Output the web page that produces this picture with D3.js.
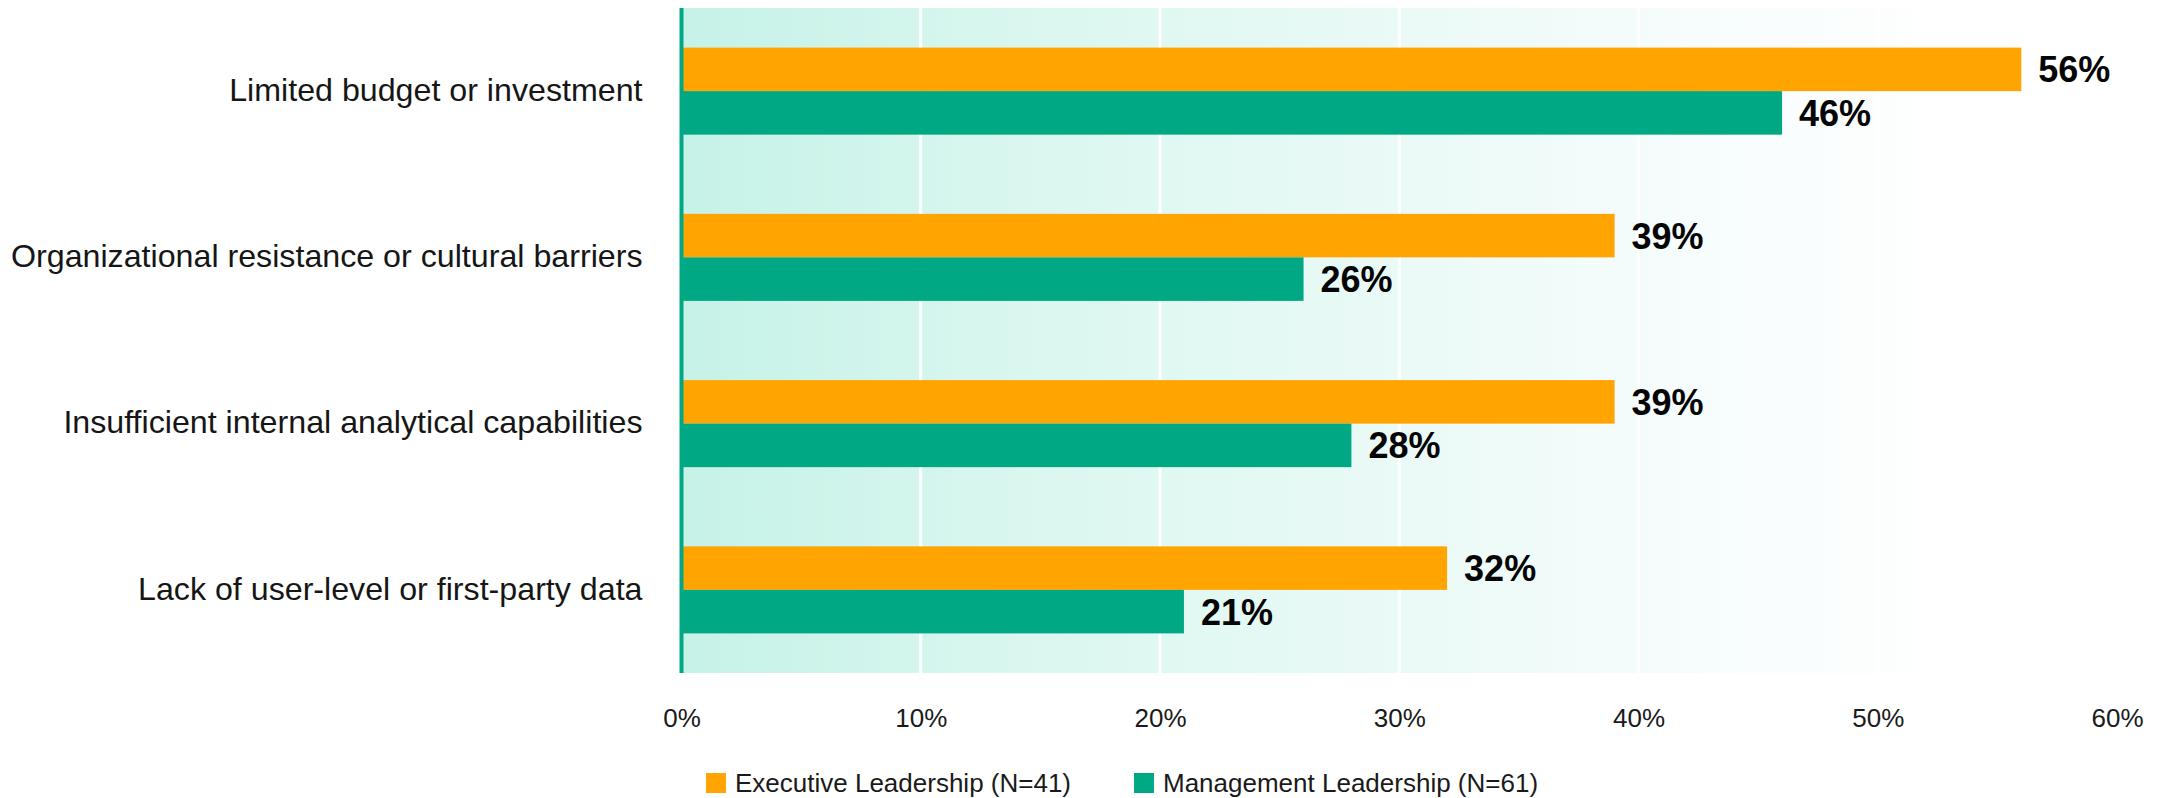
<!DOCTYPE html>
<html>
<head>
<meta charset="utf-8">
<script src="https://cdn.jsdelivr.net/npm/d3@7"></script>
<style>
  html, body { margin: 0; padding: 0; background: #ffffff; }
  svg { display: block; }
  text { font-family: "Liberation Sans", Arial, sans-serif; }
</style>
</head>
<body>
<div id="chart"></div>
<script>
// Barriers to analytics adoption, by leadership level
const categories = [
  "Limited budget or investment",
  "Organizational resistance or cultural barriers",
  "Insufficient internal analytical capabilities",
  "Lack of user-level or first-party data"
];
const seriesNames = ["Executive Leadership (N=41)", "Management Leadership (N=61)"];
const executiveValues = [56, 39, 39, 32];
const managementValues = [46, 26, 28, 21];
const tickValues = [0, 10, 20, 30, 40, 50, 60];
const seriesColors = ["#ffa400", "#00a884"];

const width = 2161, height = 798;
const plotLeft = 681.5, plotRight = 2117, plotTop = 8, plotBottom = 673;

const svg = d3.select("#chart").append("svg")
  .attr("width", width).attr("height", height)
  .attr("viewBox", `0 0 ${width} ${height}`);

const x = d3.scaleLinear().domain([0, 60]).range([plotLeft, plotRight]);
const y = d3.scaleBand().domain(categories).range([plotTop, plotBottom]).paddingInner(0).paddingOuter(0);
const inner = d3.scaleBand().domain(seriesNames).range([0, y.bandwidth()]).paddingInner(0).paddingOuter(0.91);

// soft mint backdrop fading to white
const defs = svg.append("defs");
const grad = defs.append("linearGradient").attr("id", "bgGrad")
  .attr("x1", "0%").attr("x2", "100%").attr("y1", "0%").attr("y2", "0%");
grad.append("stop").attr("offset", "0%").attr("stop-color", "#c6f2e7");
grad.append("stop").attr("offset", "30%").attr("stop-color", "#dbf7f0");
grad.append("stop").attr("offset", "60%").attr("stop-color", "#ebfaf7");
grad.append("stop").attr("offset", "85%").attr("stop-color", "#f8fdfd");
grad.append("stop").attr("offset", "100%").attr("stop-color", "#fdfefe");

svg.append("rect")
  .attr("x", x(0)).attr("y", plotTop)
  .attr("width", 1914 - x(0)).attr("height", plotBottom - plotTop)
  .attr("fill", "url(#bgGrad)");

// white vertical gridlines
svg.append("g").selectAll("line")
  .data(tickValues.filter(d => d > 0 && d < 60))
  .join("line")
  .attr("x1", d => x(d)).attr("x2", d => x(d))
  .attr("y1", plotTop).attr("y2", plotBottom)
  .attr("stroke", "#ffffff").attr("stroke-width", 3);

// grouped bars
const rows = categories.map((c, i) => ({
  category: c,
  values: [
    { series: seriesNames[0], value: executiveValues[i], color: seriesColors[0] },
    { series: seriesNames[1], value: managementValues[i], color: seriesColors[1] }
  ]
}));

const groups = svg.append("g").selectAll("g")
  .data(rows).join("g")
  .attr("transform", d => `translate(0,${y(d.category)})`);

groups.selectAll("rect")
  .data(d => d.values).join("rect")
  .attr("x", x(0))
  .attr("y", d => inner(d.series))
  .attr("width", d => x(d.value) - x(0))
  .attr("height", inner.bandwidth())
  .attr("fill", d => d.color);

groups.selectAll("text.value")
  .data(d => d.values).join("text")
  .attr("class", "value")
  .attr("x", d => x(d.value) + 17)
  .attr("y", d => inner(d.series) + inner.bandwidth() / 2)
  .attr("dy", "0.36em")
  .attr("font-size", 36)
  .attr("font-weight", "bold")
  .attr("fill", "#050505")
  .text(d => `${d.value}%`);

// category labels
svg.append("g").selectAll("text")
  .data(categories).join("text")
  .attr("x", plotLeft - 39)
  .attr("y", d => y(d) + y.bandwidth() / 2)
  .attr("dy", "0.3em")
  .attr("text-anchor", "end")
  .attr("font-size", 32.2)
  .attr("fill", "#161616")
  .text(d => d);

// left axis rule
svg.append("line")
  .attr("x1", x(0)).attr("x2", x(0))
  .attr("y1", plotTop).attr("y2", plotBottom)
  .attr("stroke", "#00a884").attr("stroke-width", 4);

// bottom axis labels
const xAxis = d3.axisBottom(x).tickValues(tickValues).tickFormat(d => `${d}%`).tickSize(0).tickPadding(0);
const axisG = svg.append("g").attr("transform", `translate(0,${plotBottom})`).call(xAxis);
axisG.select(".domain").remove();
axisG.selectAll("text")
  .attr("y", 54)
  .attr("dy", "0")
  .attr("font-size", 26)
  .attr("font-family", "\"Liberation Sans\", Arial, sans-serif")
  .attr("fill", "#1a1a1a");

// legend
const legendX = [706, 1134];
const legend = svg.append("g").selectAll("g")
  .data(seriesNames).join("g")
  .attr("transform", (d, i) => `translate(${legendX[i]},773)`);
legend.append("rect")
  .attr("width", 20).attr("height", 20)
  .attr("fill", (d, i) => seriesColors[i]);
legend.append("text")
  .attr("x", 29).attr("y", 19)
  .attr("font-size", 26)
  .attr("fill", "#1a1a1a")
  .text(d => d);
</script>
</body>
</html>
